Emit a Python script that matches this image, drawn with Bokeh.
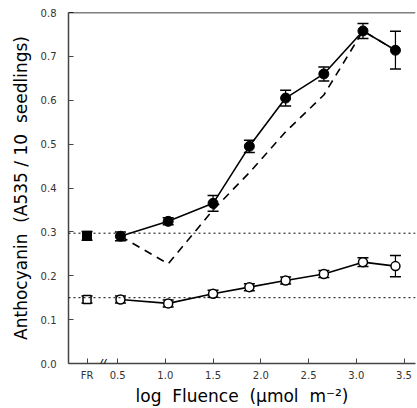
from bokeh.plotting import figure
from bokeh.models import (Range1d, FixedTicker, PrintfTickFormatter, Span, Whisker,
                          ColumnDataSource, Label, TeeHead)
from bokeh.embed import file_html
from bokeh.resources import INLINE

# ---- data ----
fr_x = [0.18]
x_vals = [0.53, 1.03, 1.50, 1.88, 2.26, 2.66, 3.07, 3.41]

upper_fr = [0.291]
upper_fr_err = [0.010]
upper_vals = [0.290, 0.324, 0.365, 0.495, 0.605, 0.660, 0.758, 0.714]
upper_err = [0.010, 0.008, 0.018, 0.014, 0.018, 0.016, 0.017, 0.043]

lower_fr = [0.146]
lower_fr_err = [0.008]
lower_vals = [0.146, 0.137, 0.159, 0.174, 0.189, 0.204, 0.231, 0.222]
lower_err = [0.008, 0.008, 0.008, 0.008, 0.008, 0.008, 0.010, 0.024]

dashed_vals = [0.290, 0.227, 0.350, 0.435, 0.528, 0.612, 0.758, 0.714]

fr_levels = [0.297, 0.150]

x_ticks = [0.18, 0.5, 1.0, 1.5, 2.0, 2.5, 3.0, 3.5]
x_tick_labels = {0.18: "FR"}
y_ticks = [0.0, 0.1, 0.2, 0.3, 0.4, 0.5, 0.6, 0.7, 0.8]

NB = "\u00a0"

# ---- figure ----
p = figure(width=417, height=408, output_backend="svg", toolbar_location=None,
           x_range=Range1d(-0.014, 3.62), y_range=Range1d(0.0, 0.8),
           min_border_left=68, min_border_right=2, min_border_top=12, min_border_bottom=43)
p.outline_line_color = None
p.grid.visible = False
p.background_fill_color = "white"
p.border_fill_color = "white"

for ax in (p.xaxis[0], p.yaxis[0]):
    ax.major_tick_in = 5
    ax.major_tick_out = 0
    ax.minor_tick_line_color = None
    ax.axis_line_color = "#444444"
    ax.axis_line_width = 1.5
    ax.major_tick_line_color = "#444444"
    ax.major_label_text_font = "DejaVu Sans"
    ax.major_label_text_font_size = "10px"
    ax.major_label_text_color = "#333333"
    ax.axis_label_text_font = "DejaVu Sans"
    ax.axis_label_text_font_style = "normal"
    ax.axis_label_text_font_size = "17px"
    ax.axis_label_text_color = "black"

p.xaxis.ticker = FixedTicker(ticks=x_ticks)
p.xaxis.formatter = PrintfTickFormatter(format="%.1f")
p.xaxis.major_label_overrides = x_tick_labels
p.xaxis.major_label_standoff = 6
p.xaxis.axis_label = "log" + NB * 2 + "Fluence" + NB * 2 + "(µmol" + NB * 2 + "m⁻²)"
p.xaxis.axis_label_standoff = 2

p.yaxis.ticker = FixedTicker(ticks=y_ticks)
p.yaxis.formatter = PrintfTickFormatter(format="%.1f")
p.yaxis.major_label_standoff = 12
p.yaxis.axis_label = ("Anthocyanin" + NB * 2 + "(A535" + NB + "/" + NB + "10" + NB * 2 + "seedlings)")
p.yaxis.axis_label_standoff = 7

# top border
p.add_layout(Span(location=0.8, dimension="width", line_color="black", line_width=1.5))

# dotted FR reference lines
for lev in fr_levels:
    p.add_layout(Span(location=lev, dimension="width", line_color="black",
                      line_width=1, line_dash="2 3"))

# dashed line
p.line(x_vals, dashed_vals, line_color="black", line_width=1.6, line_dash="8 6")

# error bars
def add_err(xs, ys, es):
    src = ColumnDataSource(dict(x=xs, lo=[y - e for y, e in zip(ys, es)],
                                hi=[y + e for y, e in zip(ys, es)]))
    w = Whisker(source=src, base="x", lower="lo", upper="hi", line_color="black",
                line_width=1.2,
                upper_head=TeeHead(size=11, line_color="black", line_width=1.5),
                lower_head=TeeHead(size=11, line_color="black", line_width=1.5))
    p.add_layout(w)

add_err(x_vals, upper_vals, upper_err)
add_err(fr_x, upper_fr, upper_fr_err)
add_err(x_vals, lower_vals, lower_err)
add_err(fr_x, lower_fr, lower_fr_err)

# solid lines
p.line(x_vals, upper_vals, line_color="black", line_width=1.6)
p.line(x_vals, lower_vals, line_color="black", line_width=1.6)

# markers
p.scatter(x_vals, upper_vals, marker="circle", size=10, fill_color="black", line_color="black")
p.scatter(fr_x, upper_fr, marker="square", size=9, fill_color="black", line_color="black")
p.scatter(x_vals, lower_vals, marker="circle", size=9, fill_color="white", line_color="black",
          line_width=1.5)
p.scatter(fr_x, lower_fr, marker="square", size=8, fill_color="white", line_color="black",
          line_width=1.5)

# axis break mark
p.add_layout(Label(x=0.34, y=0.0, text="//", text_font="Liberation Sans",
                   text_font_size="13px", text_align="center", text_baseline="middle",
                   text_font_style="italic", text_color="black"))

open("out.html", "w").write(file_html(p, INLINE))
